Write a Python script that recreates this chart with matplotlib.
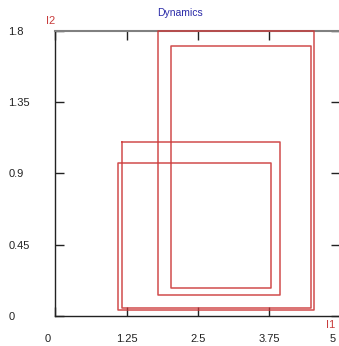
import numpy as np
import matplotlib
matplotlib.use("Agg")
import matplotlib.pyplot as plt
import matplotlib.transforms as mtransforms

plt.rcParams['font.family'] = ['Liberation Sans', 'DejaVu Sans']
plt.rcParams['font.size'] = 8

# trajectory (I1, I2)
i1 = [1.174, 3.946, 3.946, 1.800, 1.800, 4.543, 4.543, 1.098, 1.098,
      3.787, 3.787, 2.030, 2.030, 4.482, 4.482, 1.174, 1.174]
i2 = [1.100, 1.100, 0.131, 0.131, 1.800, 1.800, 0.036, 0.036, 0.967,
      0.967, 0.177, 0.177, 1.704, 1.704, 0.047, 0.047, 1.100]

xticks = [0, 1.25, 2.5, 3.75, 5]
xticklabels = ['0', '1.25', '2.5', '3.75', '5']
yticks = [0, 0.45, 0.9, 1.35, 1.8]
yticklabels = ['0', '0.45', '0.9', '1.35', '1.8']

fig = plt.figure(figsize=(3.39, 3.46), dpi=100)
ax = fig.add_axes([0.1637, 0.0876, 0.8392, 0.8228])

ax.plot(i1, i2, color='#cc3838', lw=1.1, alpha=0.9, clip_on=False, zorder=5)

ax.set_xlim(0, 5)
ax.set_ylim(0, 1.8)
ax.set_xticks(xticks)
ax.set_xticklabels(xticklabels)
ax.set_yticks(yticks)
ax.set_yticklabels(yticklabels, ha='left')

ax.tick_params(axis='both', direction='in', length=6.5, width=1.0, colors='#222222',
               labelcolor='#222222', labelsize=8)
ax.tick_params(axis='x', top=True, pad=13)
ax.tick_params(axis='y', right=True, pad=34)
for t in ax.xaxis.get_major_ticks():
    t.tick2line.set_color('#707070')

# nudge the end labels inward like the original
labs = ax.get_xticklabels()
off = mtransforms.ScaledTranslation(-7.5 / 100, 0, fig.dpi_scale_trans)
labs[0].set_transform(labs[0].get_transform() + off)
labs[-1].set_transform(labs[-1].get_transform() + off)

for s in ['left', 'bottom']:
    ax.spines[s].set_color('#222222')
    ax.spines[s].set_linewidth(1.0)
ax.spines['top'].set_color('#808080')
ax.spines['top'].set_linewidth(1.5)
ax.spines['right'].set_visible(False)

fig.text(180 / 339, 1 - 13 / 346, 'Dynamics', color='#2a2aa8', fontsize=7.5,
         ha='center', va='center')
fig.text(51 / 339, 1 - 21 / 346, 'I2', color='#c83c3c', fontsize=8,
         ha='center', va='center')
fig.text(331 / 339, 1 - 325 / 346, 'I1', color='#c83c3c', fontsize=8,
         ha='center', va='center')

fig.savefig('out.png', dpi=100)
